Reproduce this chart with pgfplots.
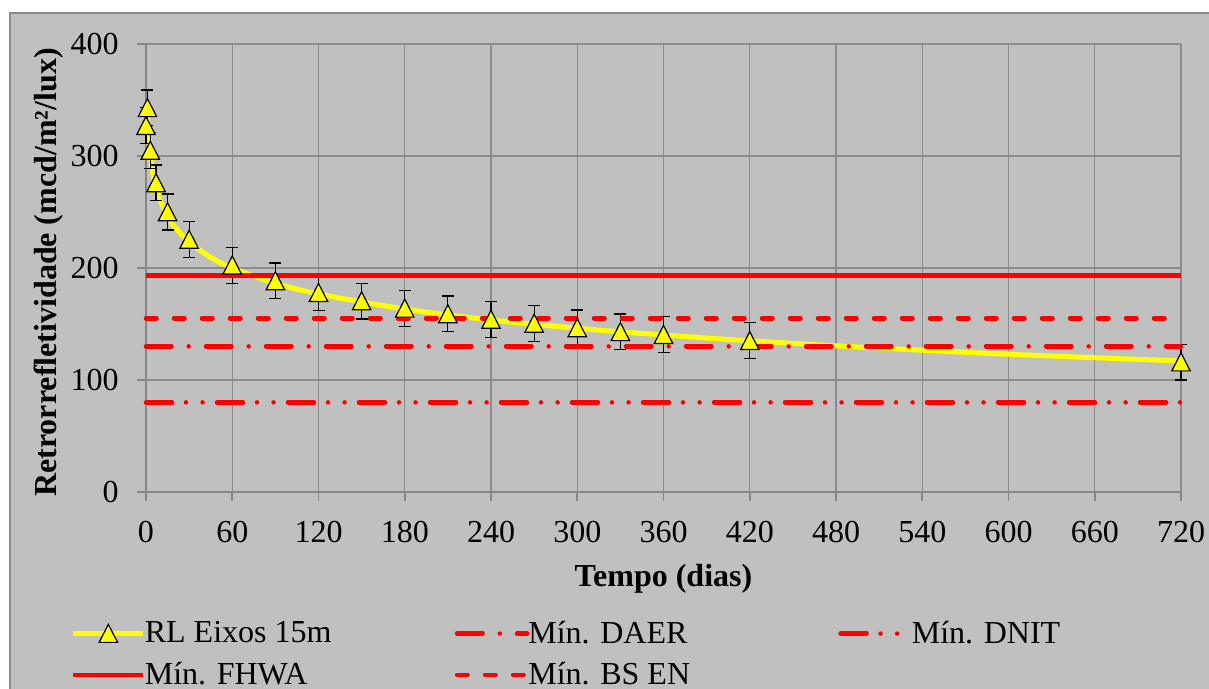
\documentclass[border=0pt]{standalone}
\usepackage{fontspec}
\setmainfont{Liberation Serif}
\usepackage{pgfplots}
\pgfplotsset{compat=1.18}
\definecolor{bggray}{HTML}{C0C0C0}
\definecolor{gridgray}{HTML}{8C8C8C}
\definecolor{axisgray}{HTML}{868686}
\definecolor{bordergray}{HTML}{8A8A8A}
\definecolor{yel}{HTML}{FFFF00}
\definecolor{rd}{HTML}{FF0000}
\pgfdeclareplotmark{tri}{%
  \pgfpathmoveto{\pgfpoint{0pt}{4.6pt}}%
  \pgfpathlineto{\pgfpoint{-4.6pt}{-4.4pt}}%
  \pgfpathlineto{\pgfpoint{4.6pt}{-4.4pt}}%
  \pgfpathclose
  \pgfusepathqfillstroke}
\newcommand{\lt}[1]{\makebox[150.5pt][l]{\hspace*{-2.5pt}#1}}
\begin{document}
\begin{tikzpicture}
\clip (0pt,0pt) rectangle (604.5pt,344.5pt);
\fill[white] (0pt,0pt) rectangle (604.5pt,344.5pt);
\draw[bordergray, fill=bggray, line width=0.75pt] (5pt,-10pt) rectangle (620pt,338pt);
\begin{axis}[
  at={(73pt,98.5pt)}, anchor=south west,
  scale only axis, width=517.5pt, height=224pt,
  xmin=0, xmax=720, ymin=0, ymax=400,
  xtick={0,60,...,720}, ytick={0,100,...,400},
  grid=major, major grid style={color=gridgray, line width=0.7pt},
  axis x line*=bottom, axis y line*=left,
  axis line style={color=axisgray, line width=0.8pt},
  tick style={color=axisgray, line width=0.8pt},
  tick align=outside, major tick length=4.5pt,
  /pgf/number format/assume math mode=true,
  /pgf/number format/1000 sep={},
  every tick label/.append style={font=\fontsize{16}{19}\selectfont, text=black},
  xticklabel style={anchor=center, yshift=-15.5pt},
  yticklabel style={anchor=east, inner sep=0pt, xshift=-9pt},
  xlabel={\textbf{Tempo (dias)}},
  ylabel={\textbf{Retrorrefletividade (mcd/m²/lux)}},
  label style={font=\fontsize{16}{19}\selectfont},
  xlabel style={at={(axis description cs:0.5,-0.193)}, anchor=center},
  ylabel style={at={(axis description cs:-0.094,0.49)}, anchor=center, rotate=0},
  clip=false,
  legend columns=3,
  legend cell align=left,
  legend style={at={(axis description cs:-0.073,-0.278)}, anchor=north west,
    draw=none, fill=none, font=\fontsize{16}{19}\selectfont,
    row sep=4pt, inner sep=0pt},
  legend image code/.code={\draw[#1] (0pt,0pt) -- (35pt,0pt);},
]
% trend line (read off the picture)
\addplot[yel, line width=2.5pt, smooth, forget plot] coordinates {
(1,336.7) (2,313.5) (3,300.0) (5,283.0) (7,271.7) (10,259.8) (15,246.2)
(20,236.6) (30,223.1) (45,209.5) (60,200.0) (90,186.4) (120,176.8)
(180,163.3) (240,153.6) (300,146.2) (360,140.1) (420,135.0) (480,130.5)
(540,126.6) (600,123.0) (660,119.9) (720,117.0)};
% measured points
\addplot[only marks, mark=tri, mark options={draw=black, fill=yel, line width=0.6pt},
  legend image code/.code={%
    \draw[yel, line width=2.5pt] (0pt,0pt) -- (35pt,0pt);
    \draw[black, fill=yel, line width=0.6pt] plot[only marks, mark=tri] coordinates {(17.5pt,0pt)};},
  error bars/.cd, y dir=both, y explicit,
  error bar style={black, line width=0.6pt},
  error mark options={rotate=90, black, mark size=3pt, line width=0.6pt}]
  table[x=x, y=y, y error=e] {
x y e
0 327 16
1 343 16
3 305 16
7 276 16
15 250 16
30 225.5 16
60 202.5 16
90 188.5 16
120 178 16
150 170.5 16
180 164 16
210 159 16
240 154 16
270 150.5 16
300 146.5 16
330 143 16
360 140.5 16
420 135 16
720 116 16
};
\addlegendentry{\lt{RL Eixos 15m}}
\addplot[rd, line width=2.25pt, line cap=round, dash pattern=on 12.75pt off 8.6pt on 0pt off 8.65pt] coordinates {(0,130) (720,130)};
\addlegendentry{\lt{Mín. DAER}}
\addplot[rd, line width=2.25pt, line cap=round, dash pattern=on 13pt off 7pt on 0pt off 8.3pt on 0pt off 7.2pt] coordinates {(0,80) (720,80)};
\addlegendentry{\hspace*{-2.5pt}Mín. DNIT}
\addplot[rd, line width=2.25pt] coordinates {(0,193.5) (720,193.5)};
\addlegendentry{\lt{Mín. FHWA}}
\addplot[rd, line width=2.25pt, line cap=round, dash pattern=on 5.25pt off 8.75pt] coordinates {(0,155) (720,155)};
\addlegendentry{\lt{Mín. BS EN}}
\end{axis}
\end{tikzpicture}
\end{document}
